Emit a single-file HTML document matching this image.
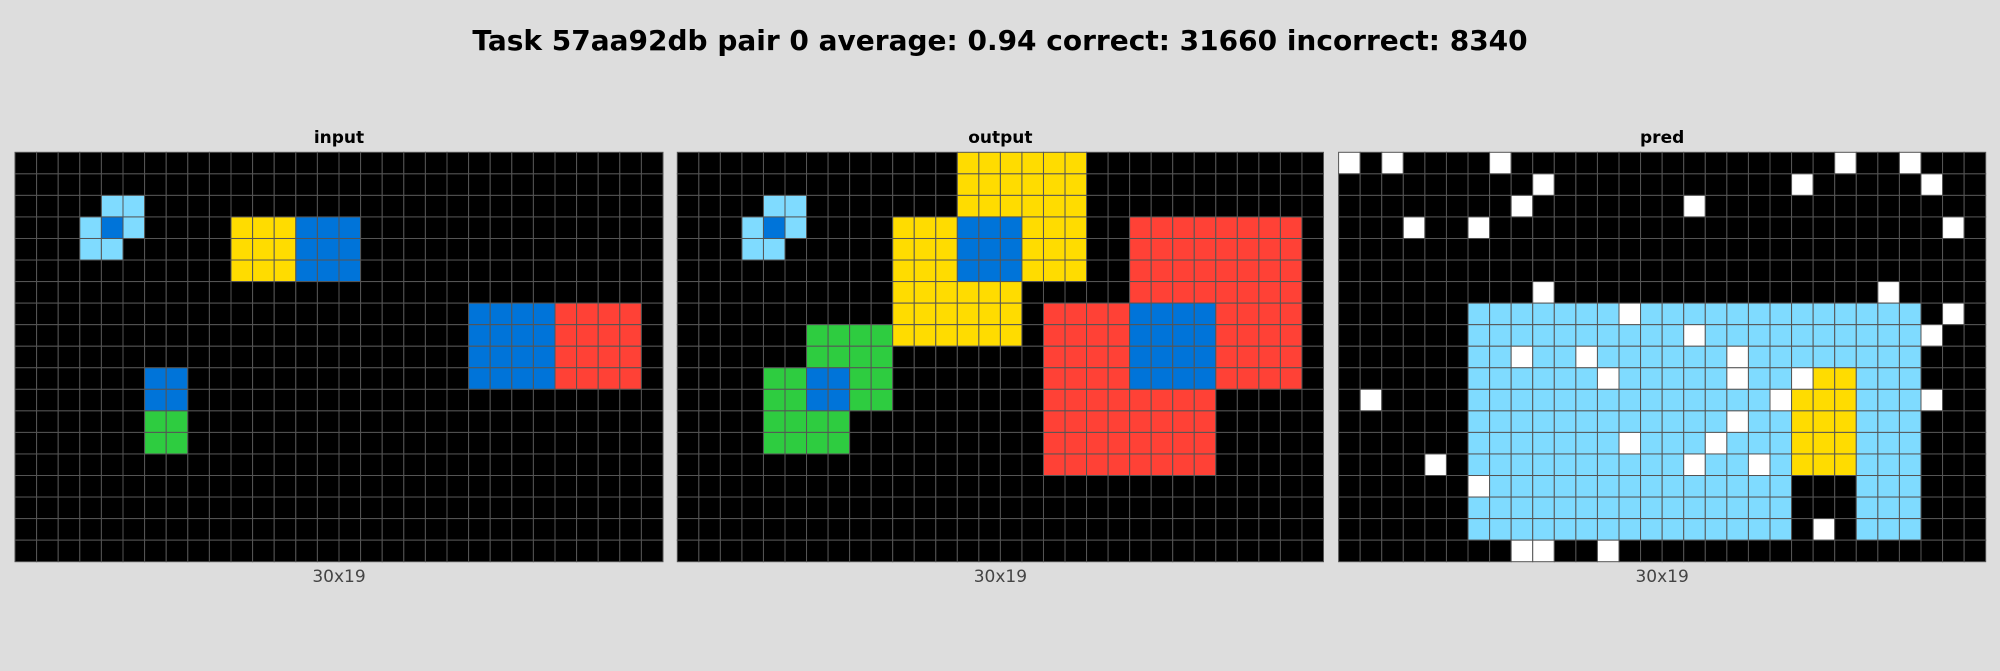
<!DOCTYPE html>
<html><head><meta charset="utf-8"><style>
html,body{margin:0;padding:0;background:#dddddd;}
svg{display:block;font-family:"DejaVu Sans","Liberation Sans",sans-serif;}
</style></head><body>
<svg id="fig" width="2000" height="671" viewBox="0 0 2000 671" xmlns="http://www.w3.org/2000/svg">
<rect width="2000" height="671" fill="#dddddd"/>
<text x="1000" y="50" text-anchor="middle" font-size="28" font-weight="bold" fill="#000">Task 57aa92db pair 0 average: 0.94 correct: 31660 incorrect: 8340</text>
</svg>
<script>
const panelNames = ["input","output","pred"];
const panelSizes = ["30x19","30x19","30x19"];
const inputGrid = [
"000000000000000000000000000000",
"000000000000000000000000000000",
"000088000000000000000000000000",
"000818000044411100000000000000",
"000880000044411100000000000000",
"000000000044411100000000000000",
"000000000000000000000000000000",
"000000000000000000000111122220",
"000000000000000000000111122220",
"000000000000000000000111122220",
"000000110000000000000111122220",
"000000110000000000000000000000",
"000000330000000000000000000000",
"000000330000000000000000000000",
"000000000000000000000000000000",
"000000000000000000000000000000",
"000000000000000000000000000000",
"000000000000000000000000000000",
"000000000000000000000000000000"];
const outputGrid = [
"000000000000044444400000000000",
"000000000000044444400000000000",
"000088000000044444400000000000",
"000818000044411144400222222220",
"000880000044411144400222222220",
"000000000044411144400222222220",
"000000000044444400000222222220",
"000000000044444402222111122220",
"000000333344444402222111122220",
"000000333300000002222111122220",
"000033113300000002222111122220",
"000033113300000002222222200000",
"000033330000000002222222200000",
"000033330000000002222222200000",
"000000000000000002222222200000",
"000000000000000000000000000000",
"000000000000000000000000000000",
"000000000000000000000000000000",
"000000000000000000000000000000"];
const predGrid = [
"505000050000000000000005005000",
"000000000500000000000500000500",
"000000005000000050000000000000",
"000500500000000000000000000050",
"000000000000000000000000000000",
"000000000000000000000000000000",
"000000000500000000000000050000",
"000000888888858888888888888050",
"000000888888888858888888888500",
"000000885885888888588888888000",
"000000888888588888588544888000",
"050000888888888888885444888500",
"000000888888888888588444888000",
"000000888888858885888444888000",
"000050888888888858858444888000",
"000000588888888888888000888000",
"000000888888888888888000888000",
"000000888888888888888050888000",
"000000005500500000000000000000"];
const grids = [inputGrid, outputGrid, predGrid];
const colors = {"0":"#000000","1":"#0074D9","2":"#FF4136","3":"#2ECC40","4":"#FFDC00","5":"#FFFFFF","8":"#7FDBFF"};
const panelX = [[15,663],[677.3,1323.5],[1338.6,1985.7]];
const top0 = 152.3, bot0 = 561.7;
const svg = document.getElementById('fig');
const NS = "http://www.w3.org/2000/svg";
grids.forEach((g, p) => {
  const [x0, x1] = panelX[p];
  const rows = g.length, cols = g[0].length;
  const cw = (x1 - x0) / cols, ch = (bot0 - top0) / rows;
  const grp = document.createElementNS(NS, 'g');
  
  
  svg.appendChild(grp);
  for (let r = 0; r < rows; r++) for (let c = 0; c < cols; c++) {
    const rc = document.createElementNS(NS, 'rect');
    
    
    rc.setAttribute('x', x0 + c * cw); rc.setAttribute('y', top0 + r * ch);
    rc.setAttribute('width', cw); rc.setAttribute('height', ch);
    rc.setAttribute('fill', colors[g[r][c]]);
    rc.setAttribute('stroke', '#555555'); rc.setAttribute('stroke-width', '1');
    grp.appendChild(rc);
  }
  const t = document.createElementNS(NS, 'text');
  
  
  t.setAttribute('x', (x0 + x1) / 2); t.setAttribute('y', 143);
  t.setAttribute('text-anchor', 'middle'); t.setAttribute('font-size', '17');
  t.setAttribute('font-weight', 'bold');
  t.textContent = panelNames[p];
  svg.appendChild(t);
  const s = document.createElementNS(NS, 'text');
  
  
  s.setAttribute('x', (x0 + x1) / 2); s.setAttribute('y', 582);
  s.setAttribute('text-anchor', 'middle'); s.setAttribute('font-size', '17');
  s.setAttribute('fill', '#444444');
  s.textContent = panelSizes[p];
  svg.appendChild(s);
});
</script>
</body></html>
